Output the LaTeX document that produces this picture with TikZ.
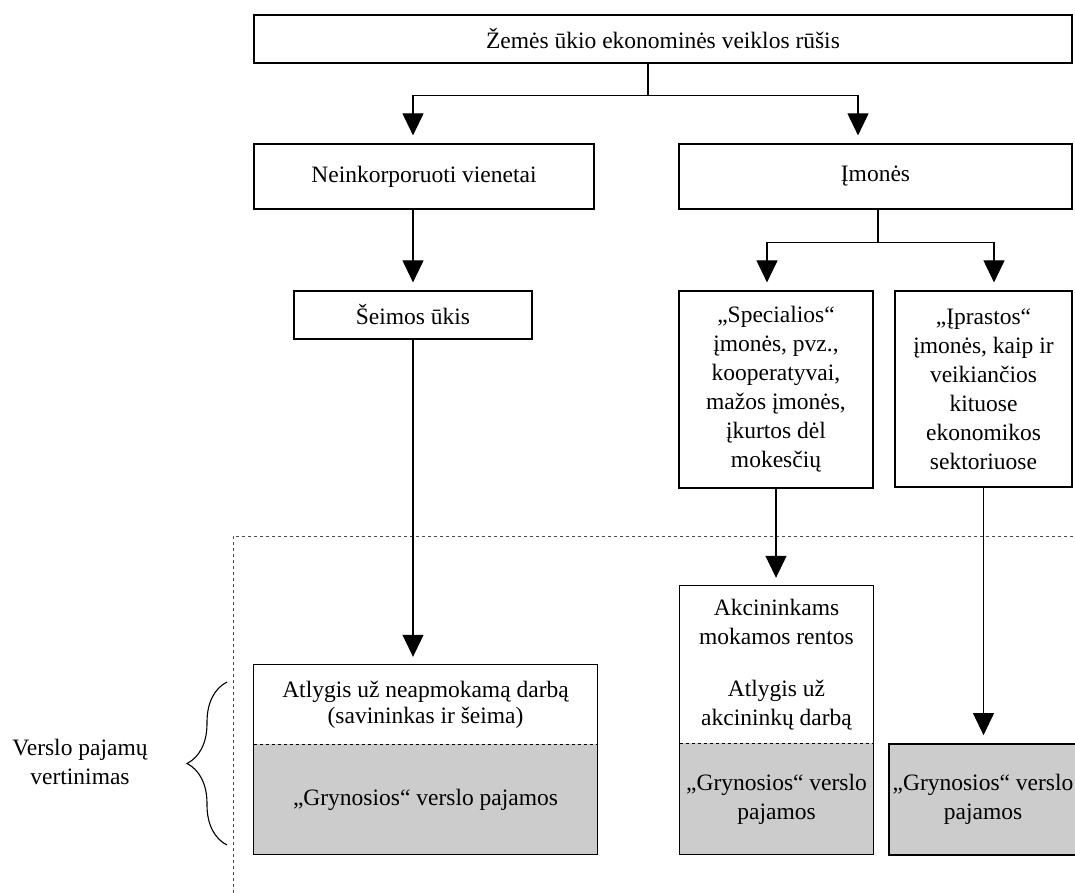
\documentclass[tikz,border=0pt]{standalone}
\usepackage{fontspec}
\setmainfont{Liberation Serif}
\usetikzlibrary{arrows.meta,decorations.pathreplacing}

\begin{document}
\begin{tikzpicture}[x=1pt,y=-1pt,
  font=\fontsize{23.5}{29}\selectfont,
  box/.style={draw,line width=1.2pt,rectangle,align=center,inner sep=0pt},
  part/.style={rectangle,align=center,inner sep=0pt},
  greypart/.style={part,fill=black!20},
  arr/.style={line width=1.1pt,-{Triangle[length=22pt,width=21pt]},shorten >=8pt},
  frame/.style={line width=1pt}]
\useasboundingbox (0,0) rectangle (1075,892);

% dashed area
\draw[dashed,line width=0.6pt,black!70] (1073,536) -- (233,536) -- (233,900);

\node[box,minimum width=818,minimum height=48] (top) at (663,39) {Žemės ūkio ekonominės veiklos rūšis};
\node[box,minimum width=340,minimum height=65] (neink) at (424,176.5) {Neinkorporuoti vienetai};
\node[box,minimum width=393,minimum height=65] (imones) at (875.5,176.5) {Įmonės};
\node[box,minimum width=238,minimum height=48] (seimos) at (413,315) {Šeimos ūkis};
\node[box,minimum width=194,minimum height=197] (spec) at (776,389.5) {„Specialios“\\įmonės, pvz.,\\kooperatyvai,\\mažos įmonės,\\įkurtos dėl\\mokesčių};
\node[box,minimum width=177,minimum height=196] (iprast) at (983.5,389) {„Įprastos“\\įmonės, kaip ir\\veikiančios\\kituose\\ekonomikos\\sektoriuose};

% family farm
\node[part,minimum width=343,minimum height=79] (famtop) at (425.5,704.5) {Atlygis už neapmokamą darbą\\[-3pt](savininkas ir šeima)};
\node[greypart,minimum width=343,minimum height=110,anchor=north] (famgrey) at (famtop.south) {„Grynosios“ verslo pajamos};
\draw[frame] (famtop.north west) rectangle (famgrey.south east);
\draw[dashed,line width=0.6pt] (famtop.south west) -- (famtop.south east);

% special
\node[part,minimum width=193,minimum height=157] (akctop) at (776.5,664.5) {Akcininkams\\mokamos rentos\\[23pt]Atlygis už\\akcininkų darbą};
\node[greypart,minimum width=193,minimum height=111,anchor=north] (akcgrey) at (akctop.south) {„Grynosios“ verslo\\pajamos};
\draw[frame] (akctop.north west) rectangle (akcgrey.south east);
\draw[dashed,line width=0.6pt] (akctop.south west) -- (akctop.south east);

% usual
\node[box,fill=black!20,line width=1.8pt,minimum width=188,minimum height=111] (netgrey) at (983,799.5) {„Grynosios“ verslo\\pajamos};

\node[align=center] (val) at (80,762) {Verslo pajamų\\vertinimas};
\draw[line width=1.1pt,decorate,decoration={brace,amplitude=40pt}] (227,845) -- (227,682);

\draw[arr] ([xshift=-15]top.south) -- ++(0,32) -| ([xshift=-11]neink.north);
\draw[arr] ([xshift=-15]top.south) -- ++(0,32) -| ([xshift=-17.5]imones.north);
\draw[arr] (neink.south -| seimos.north) -- (seimos.north);
\draw[arr] ([xshift=2.5]imones.south) -- ++(0,33) -| ([xshift=-9]spec.north);
\draw[arr] ([xshift=2.5]imones.south) -- ++(0,33) -| ([xshift=10.5]iprast.north);
\draw[arr] (seimos.south) -- (seimos.south |- famtop.north);
\draw[arr] (spec.south) -- (spec.south |- akctop.north);
\draw[arr] (iprast.south) -- (iprast.south |- netgrey.north);

\end{tikzpicture}
\end{document}
